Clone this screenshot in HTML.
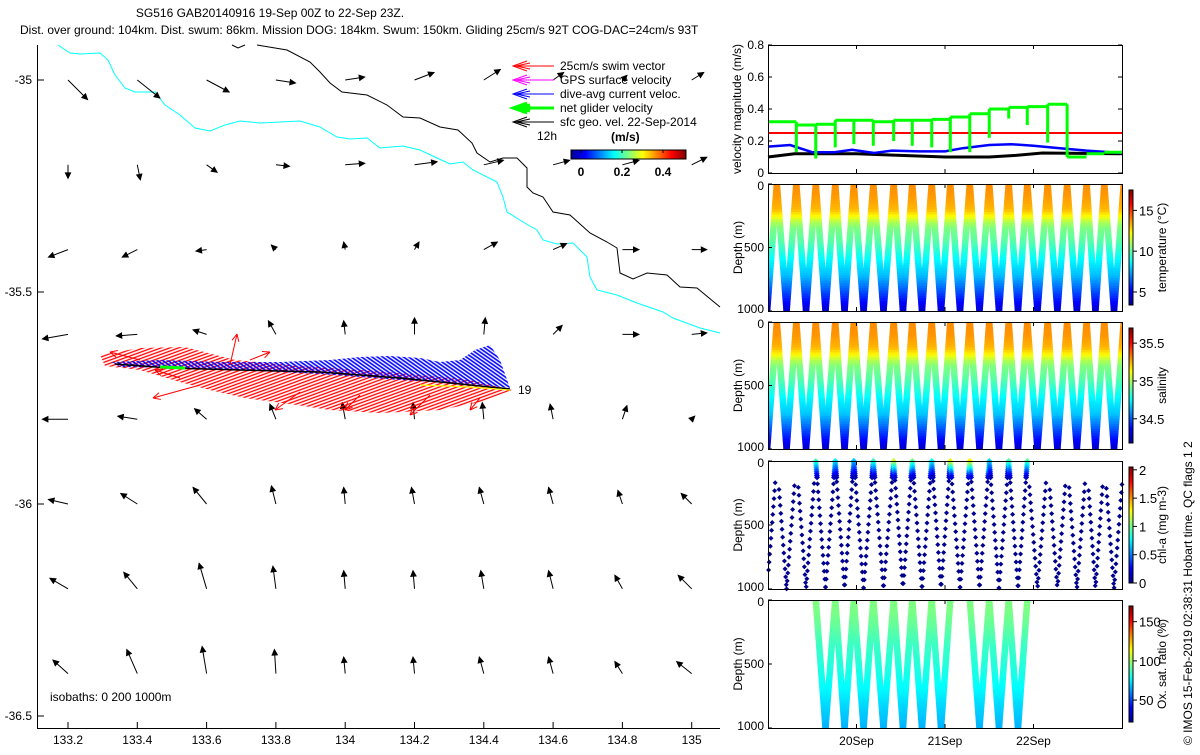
<!DOCTYPE html>
<html><head><meta charset="utf-8"><style>
body{margin:0;background:#fff;}
svg text{font-family:"Liberation Sans",sans-serif;font-size:12px;fill:#000;}
</style></head><body>
<svg id="fig" width="1200" height="750" viewBox="0 0 1200 750" xmlns="http://www.w3.org/2000/svg">
<defs>
<linearGradient id="jetV" x1="0" y1="1" x2="0" y2="0">
<stop offset="0" stop-color="#00008f"/><stop offset="0.125" stop-color="#0000ff"/><stop offset="0.375" stop-color="#00ffff"/><stop offset="0.625" stop-color="#ffff00"/><stop offset="0.875" stop-color="#ff0000"/><stop offset="1" stop-color="#800000"/></linearGradient>
<linearGradient id="jetH" x1="0" y1="0" x2="1" y2="0">
<stop offset="0" stop-color="#00008f"/><stop offset="0.125" stop-color="#0000ff"/><stop offset="0.375" stop-color="#00ffff"/><stop offset="0.625" stop-color="#ffff00"/><stop offset="0.875" stop-color="#ff0000"/><stop offset="1" stop-color="#800000"/></linearGradient>
<pattern id="redHatch" width="6" height="3" patternUnits="userSpaceOnUse" patternTransform="rotate(-20)"><line x1="0" y1="1" x2="6" y2="1" stroke="#f00" stroke-width="1.3"/></pattern>
<pattern id="blueHatch" width="4" height="3" patternUnits="userSpaceOnUse" patternTransform="rotate(35)"><line x1="0" y1="1" x2="4" y2="1" stroke="#00f" stroke-width="1.6"/></pattern>
<clipPath id="cT"><rect x="768" y="184" width="354" height="127"/></clipPath>
<clipPath id="cS"><rect x="768" y="322" width="354" height="127"/></clipPath>
<clipPath id="cO"><rect x="768" y="600" width="354" height="128"/></clipPath>
</defs>

<text x="270" y="17" text-anchor="middle">SG516 GAB20140916 19-Sep 00Z to 22-Sep 23Z.</text>
<text x="20" y="34">Dist. over ground: 104km. Dist. swum: 86km. Mission DOG: 184km. Swum: 150km. Gliding 25cm/s 92T COG-DAC=24cm/s 93T</text>

<g id="map"></g>
<g id="vel"></g>
<g id="prof"></g>

<text transform="translate(1192,745) rotate(-90)">© IMOS 15-Feb-2019 02:38:31 Hobart time. QC flags 1  2</text>
</svg>
<script>
// ---------- DATA ----------
const mapLons=[133.2,133.4,133.6,133.8,134,134.2,134.4,134.6,134.8,135];
const mapLats=[-35,-35.2,-35.4,-35.6,-35.8,-36,-36.2,-36.4];
const latTicks=[-35,-35.5,-36,-36.5];
const geoU=[
[0.13,0.15,0.15,0.13,0.13,0.13,0.11,0.07,0.03,0.08],
[0,0.02,0.07,0.09,0.13,0.15,0.13,0.11,0.11,0.1],
[-0.13,-0.1,-0.07,-0.03,-0.01,0.03,0.09,0.09,0.11,0.1],
[-0.17,-0.14,-0.09,-0.05,-0.01,0,0.01,0.06,0.11,0.1],
[-0.17,-0.13,-0.08,-0.04,-0.02,-0.01,-0.01,-0.02,0.03,0.02],
[-0.13,-0.11,-0.09,-0.03,-0.01,-0.02,-0.03,-0.03,-0.03,-0.07],
[-0.12,-0.09,-0.05,-0.02,-0.01,-0.01,-0.02,-0.03,-0.05,-0.09],
[-0.1,-0.07,-0.03,-0.01,-0.01,-0.01,-0.03,-0.03,-0.05,-0.1]];
const geoV=[
[-0.13,-0.12,-0.08,-0.02,0.02,0.05,0.07,0.05,0.03,0.05],
[-0.09,-0.1,-0.05,-0.01,0.01,0.02,0.03,0.03,0.03,0.05],
[-0.05,-0.05,-0.01,0.03,0.05,0.05,0.05,0.04,0,0],
[-0.03,-0.01,0.03,0.09,0.09,0.11,0.11,0.06,0,0.01],
[0,0.02,0.07,0.1,0.11,0.11,0.11,0.1,0.09,0.02],
[0.03,0.07,0.11,0.12,0.11,0.11,0.11,0.11,0.09,0.07],
[0.07,0.11,0.17,0.15,0.12,0.12,0.12,0.12,0.09,0.09],
[0.09,0.16,0.18,0.16,0.11,0.11,0.11,0.11,0.08,0.08]];
const segStart=[19.0,19.32,19.54,19.76,19.97,20.19,20.42,20.63,20.85,21.06,21.28,21.50,21.72,21.93,22.16,22.38,22.60,22.80];
const netVel=[0.32,0.30,0.305,0.33,0.33,0.32,0.33,0.33,0.335,0.35,0.37,0.40,0.41,0.415,0.43,0.10,0.12,0.13];
const netDip=[0.32,0.13,0.09,0.16,0.18,0.17,0.20,0.17,0.16,0.13,0.13,0.22,0.34,0.30,0.19,0.10,0.26,0.24];
const dacT=[19.0,19.25,19.5,19.75,19.95,20.2,20.4,20.7,21.0,21.2,21.5,21.75,22.0,22.3,22.6,23.0];
const dacV=[0.165,0.175,0.13,0.13,0.145,0.125,0.14,0.135,0.135,0.155,0.175,0.18,0.17,0.155,0.14,0.125];
const geoT=[19.0,19.3,20.0,20.5,21.0,21.5,21.8,22.1,23.0];
const geoMag=[0.10,0.12,0.12,0.11,0.10,0.10,0.11,0.125,0.12];
const swimSpeed=0.25;
const surfT=[18.88,19.10,19.32,19.54,19.76,19.97,20.19,20.42,20.63,20.85,21.06,21.28,21.50,21.72,21.93,22.16,22.38,22.60,22.80,23.02];
const profDepth=[0,100,200,250,300,350,450,600,720,820,950,1000];
const profTemp=[13.8,13.6,13.2,12.3,11.1,10.4,9.9,8.6,7.8,6.6,5.0,4.4];
const profSal=[35.30,35.29,35.24,35.15,35.02,34.94,34.88,34.74,34.67,34.53,34.35,34.29];
const profOx=[96,95,92,90,88,86,84,80,76,72,68,66];
const oxDives=[3,4,5,6,7,8,9,11,12,13];
const chlSurf=[0,0,0,0.9,0.75,0.65,0.9,1.2,1.0,0.8,1.3,1.3,0.7,0.95,0,0,0,0,0];
const dayTicks=[20,21,22];

// ---------- helpers ----------
const svg=document.getElementById('fig');
const NS='http://www.w3.org/2000/svg';
function mk(tag,attrs,parent){const e=document.createElementNS(NS,tag);for(const k in attrs)e.setAttribute(k,attrs[k]);(parent||svg).appendChild(e);return e;}
function jet(t){t=Math.max(0,Math.min(1,t));const c=v=>Math.round(255*Math.max(0,Math.min(1,v)));
 return `rgb(${c(1.5-Math.abs(4*t-3))},${c(1.5-Math.abs(4*t-2))},${c(1.5-Math.abs(4*t-1))})`;}
function interp(xs,ys,x){if(x<=xs[0])return ys[0];for(let i=1;i<xs.length;i++){if(x<=xs[i]){const f=(x-xs[i-1])/(xs[i]-xs[i-1]);return ys[i-1]+f*(ys[i]-ys[i-1]);}}return ys[ys.length-1];}

// ---------- MAP ----------
const map=document.getElementById('map');
const lonX=l=>68+(l-133.2)*346.5;
const latY=l=>80+(-35-l)*424;
const cyanPts="58,45 70,53 80,54 100,53 108,60 115,75 125,88 135,92 155,92 165,105 180,115 195,128 210,131 225,125 240,121 260,123 300,121 320,127 337,137 350,139 367,138 380,148 403,146 420,150 437,158 450,164 463,162 473,170 497,182 503,197 507,212 523,222 537,230 543,240 557,244 573,243 587,257 590,277 597,290 617,295 637,303 663,312 673,318 700,328 720,333";
const blackPts="257,45 287,50 310,62 320,72 330,83 342,92 367,95 387,105 403,117 420,118 440,127 458,130 472,143 477,153 490,162 503,158 517,158 527,168 527,187 533,193 543,197 553,212 570,215 590,233 607,242 617,248 620,273 633,279 647,273 667,275 680,287 697,288 720,307";
let e;
e=mk('polyline',{points:cyanPts,fill:'none',stroke:'#00ffff','stroke-width':1},map);


e=mk('polyline',{points:blackPts,fill:'none',stroke:'#000','stroke-width':1},map);


mk('polyline',{points:"232,45 238,48 245,45",fill:'none',stroke:'#000'},map);

const S=150;
function arrow(x0,y0,x1,y1,col,w,hs,parent,filled){
 mk('line',{x1:x0,y1:y0,x2:x1,y2:y1,stroke:col,'stroke-width':w},parent);
 const a=Math.atan2(y1-y0,x1-x0);const p=[];
 for(const s of [-1,1]){p.push([x1-hs*Math.cos(a+s*0.45),y1-hs*Math.sin(a+s*0.45)]);}
 if(filled){mk('polygon',{points:`${x1},${y1} ${p[0][0]},${p[0][1]} ${p[1][0]},${p[1][1]}`,fill:col,stroke:col},parent);}
 else{for(const q of p)mk('line',{x1:x1,y1:y1,x2:q[0],y2:q[1],stroke:col,'stroke-width':w},parent);}
}
const ga=mk('g',{},map);


mapLats.forEach((lat,r)=>mapLons.forEach((lon,c)=>{
 const x0=lonX(lon),y0=latY(lat);
 arrow(x0,y0,x0+geoU[r][c]*S,y0-geoV[r][c]*S,'#000',1,6,ga,true);
}));

const tr=mk('g',{},map);


mk('polygon',{points:"100,355 140,348 185,347 235,360 300,366 360,370 410,374 470,380 512,390 480,402 440,410 380,413 330,410 290,404 245,398 210,390 180,382 140,370 105,366",fill:'url(#redHatch)'},tr);
mk('polygon',{points:"112,362 160,360 220,362 280,362 330,360 360,357 390,356 420,358 440,362 460,360 475,350 490,345 500,360 510,388 470,384 400,380 320,374 240,370 180,368 120,367",fill:'url(#blueHatch)'},tr);
mk('polyline',{points:"115,364 170,368 240,370 320,372 400,378 470,385 510,389",fill:'none',stroke:'#000','stroke-width':1.5},tr);
mk('polyline',{points:"420,385 470,387 510,390",fill:'none',stroke:'#ff0','stroke-width':1.2},tr);
mk('line',{x1:160,y1:367,x2:185,y2:368,stroke:'#0f0','stroke-width':3},tr);
[[230,365,237,334],[200,385,153,398],[180,378,155,370],[300,392,275,410],[430,395,410,415],[360,395,345,410],[480,398,470,410],[250,360,270,352],[140,360,110,352]].forEach(a=>arrow(a[0],a[1],a[2],a[3],'#f00',1,8,tr,false));
mk('text',{x:518,y:394},tr).textContent='19';

const ax=mk('g',{},map);


mk('line',{x1:37.5,y1:45,x2:37.5,y2:728,stroke:'#000'},ax);
mk('line',{x1:37,y1:728.5,x2:720,y2:728.5,stroke:'#000'},ax);
mapLons.forEach(l=>{const x=lonX(l);mk('line',{x1:x,y1:728,x2:x,y2:722,stroke:'#000'},ax);
 const t=mk('text',{x:x,y:744,'text-anchor':'middle'},ax);t.textContent=(Math.round(l*10)/10).toString();});
latTicks.forEach(l=>{const y=latY(l);mk('line',{x1:38,y1:y,x2:44,y2:y,stroke:'#000'},ax);
 const t=mk('text',{x:32,y:y+4,'text-anchor':'end'},ax);t.textContent=l.toString();});
e=mk('text',{x:50,y:701},map);e.textContent='isobaths: 0   200  1000m';



const lg=mk('g',{},map);


[['#f00','25cm/s swim vector',1],['#f0f','GPS surface velocity',1],['#00f','dive-avg current veloc.',1],['#0f0','net glider velocity',3],['#000','sfc geo. vel. 22-Sep-2014',1]].forEach((d,i)=>{
 const y=66+i*14;const ent=mk('g',{},lg);
 
 
 mk('line',{x1:513,y1:y,x2:554,y2:y,stroke:d[0],'stroke-width':d[2]},ent);
 mk('polyline',{points:`527,${y-5} 513,${y} 527,${y+5}`,fill:'none',stroke:d[0],'stroke-width':d[2]},ent);
 mk('polyline',{points:`530,${y-3} 516,${y} 530,${y+3}`,fill:'none',stroke:d[0],'stroke-width':d[2]},ent);
 const t=mk('text',{x:560,y:y+4},ent);t.textContent=d[1];});
e=mk('text',{x:537,y:140},lg);e.textContent='12h';
e=mk('text',{x:611,y:141,'style':'font-weight:bold'},lg);e.textContent='(m/s)';
mk('rect',{x:571,y:150,width:115,height:9,fill:'url(#jetH)',stroke:'#000'},lg);
[[0,'0'],[0.2,'0.2'],[0.4,'0.4']].forEach(d=>{const x=581+d[0]*205;mk('line',{x1:x,y1:150,x2:x,y2:153,stroke:'#000'},lg);
 const t=mk('text',{x:x,y:176,'text-anchor':'middle',style:'font-weight:bold'},lg);t.textContent=d[1];});

// ---------- RIGHT PANELS ----------
const X0=768,X1=1122;
const tX=t=>X0+(t-19)*(X1-X0)/4;
function axesBox(g,top,bot,name){const r=mk('rect',{x:X0+0.5,y:top+0.5,width:X1-X0,height:bot-top,fill:'none',stroke:'#000'},g);
 
 
 dayTicks.forEach(d=>{const x=tX(d);mk('line',{x1:x,y1:bot,x2:x,y2:bot-4,stroke:'#000'},g);mk('line',{x1:x,y1:top,x2:x,y2:top+4,stroke:'#000'},g);});}
function ylab(g,txt,x,cy){const t=mk('text',{transform:`translate(${x},${cy}) rotate(-90)`,'text-anchor':'middle'},g);t.textContent=txt;return t;}

const vel=document.getElementById('vel');
const VT=45,VB=173;const vY=v=>VB-v*(VB-VT)/0.8;
[0,0.2,0.4,0.6,0.8].forEach(v=>{const y=vY(v);mk('line',{x1:X0,y1:y,x2:X0+4,y2:y,stroke:'#000'},vel);mk('line',{x1:X1-4,y1:y,x2:X1,y2:y,stroke:'#000'},vel);
 const t=mk('text',{x:764,y:y+4,'text-anchor':'end'},vel);t.textContent=v===0?'0':v.toString();});
ylab(vel,'velocity magnitude (m/s)',741,109);
e=mk('line',{x1:X0,y1:vY(swimSpeed),x2:X1,y2:vY(swimSpeed),stroke:'#f00','stroke-width':2},vel);


let pts=geoT.map((t,i)=>`${tX(t)},${vY(geoMag[i])}`).join(' ');
e=mk('polyline',{points:pts,fill:'none',stroke:'#000','stroke-width':3},vel);


pts=dacT.map((t,i)=>`${tX(t)},${vY(dacV[i])}`).join(' ');
e=mk('polyline',{points:pts,fill:'none',stroke:'#00f','stroke-width':2.5},vel);


const gn=mk('g',{},vel);


segStart.forEach((t,i)=>{const x0=tX(t),x1=i+1<segStart.length?tX(segStart[i+1]):X1;
 const prev=i>0?netVel[i-1]:netVel[i];const top=Math.max(prev,netVel[i]);
 mk('line',{x1:x0,y1:vY(top),x2:x0,y2:vY(Math.min(netDip[i],netVel[i])),stroke:'#0f0','stroke-width':3},gn);
 mk('line',{x1:x0,y1:vY(netVel[i]),x2:x1,y2:vY(netVel[i]),stroke:'#0f0','stroke-width':3},gn);});
axesBox(vel,VT,VB,'velocity-axes');

const prof=document.getElementById('prof');
function depthPanel(top,bot,name,cbTicks,cbMin,cbMax,cbLabel,clip,varArr,dives){
 const g=mk('g',{},prof);
 
 
 const dY=d=>top+d*(bot-top)/1000;
 const mg=mk('g',{'clip-path':clip?`url(#${clip})`:''},g);
 if(varArr){dives.forEach(i=>{
   const ts=surfT[i],te=surfT[i+1],tm=(ts+te)/2;
   for(let d=0;d<1000;d+=20){
     const c=jet((interp(profDepth,varArr,d+10)-cbMin)/(cbMax-cbMin));
     for(const [a,b] of [[ts,tm],[te,tm]]){
       const xa=tX(a+(b-a)*d/1000),xb=tX(a+(b-a)*Math.min(1000,d+22)/1000);
       mk('line',{x1:xa,y1:dY(d),x2:xb,y2:dY(Math.min(1000,d+22)),stroke:c,'stroke-width':6.5},mg);}
   }});}
 ylab(g,'Depth (m)',742,(top+bot)/2);
 [[0,'0'],[500,'500'],[1000,'1000']].forEach(d=>{const y=dY(d[0]);const t=mk('text',{x:764,y:y+(d[0]===0?6:d[0]===1000?2:4),'text-anchor':'end'},g);t.textContent=d[1];
  mk('line',{x1:X0,y1:y,x2:X0+4,y2:y,stroke:'#000'},g);});
 axesBox(g,top,bot,name+'-axes');
 const ct=top+6,cb=bot-6;
 const cbr=mk('rect',{x:1129,y:ct,width:4,height:cb-ct,fill:'url(#jetV)',stroke:'#000'},g);
 
 
 cbTicks.forEach(v=>{const y=cb-(v-cbMin)*(cb-ct)/(cbMax-cbMin);mk('line',{x1:1133,y1:y,x2:1137,y2:y,stroke:'#000'},g);
  const t=mk('text',{x:1139,y:y+5,style:'font-size:13px'},g);t.textContent=v.toString();});
 ylab(g,cbLabel,1166,(ct+cb)/2);
 return {g,mg,dY};
}
const allDives=surfT.slice(0,-1).map((_,i)=>i);
depthPanel(184,311,'temperature-panel',[5,10,15],3.4,17.5,'temperature (°C)','cT',profTemp,allDives);
depthPanel(322,449,'salinity-panel',[34.5,35,35.5],34.18,35.7,'salinity','cS',profSal,allDives);
const chl=depthPanel(461,589,'chlorophyll-panel',[0,0.5,1,1.5,2],0,2.05,'chl-a (mg m-3)',null,null,[]);
depthPanel(600,728,'oxygen-panel',[50,100,150],22,170,'Ox. sat. ratio (%)','cO',profOx,oxDives);
allDives.forEach(i=>{const ts=surfT[i],te=surfT[i+1],tm=(ts+te)/2;
 const has=chlSurf[i]>0;
 [[ts,tm,0],[te,tm,1]].forEach(([a,b,leg])=>{
  const start=has?150:(leg?170:200);
  for(let d=start+(i*23%40);d<=1000;d+=62){const t=a+(b-a)*d/1000;if(t<19||t>23)continue;
   const x=tX(t),y=chl.dY(d);mk('path',{d:`M${x-2.5},${y}L${x},${y-2.5}L${x+2.5},${y}L${x},${y+2.5}Z`,fill:'#00008f'},chl.mg);}
  if(has){for(let d=0;d<130;d+=16){const t=a+(b-a)*d/1000;const v=chlSurf[i]*(1-d/150);
   const x=tX(t),y=chl.dY(d);mk('path',{d:`M${x-3},${y}L${x},${y-3}L${x+3},${y}L${x},${y+3}Z`,fill:jet(v/2.05)},chl.mg);}}
 });});
dayTicks.forEach(d=>{const t=mk('text',{x:tX(d),y:745,'text-anchor':'middle'},prof);t.textContent=d+'Sep';});
</script>
</body></html>
